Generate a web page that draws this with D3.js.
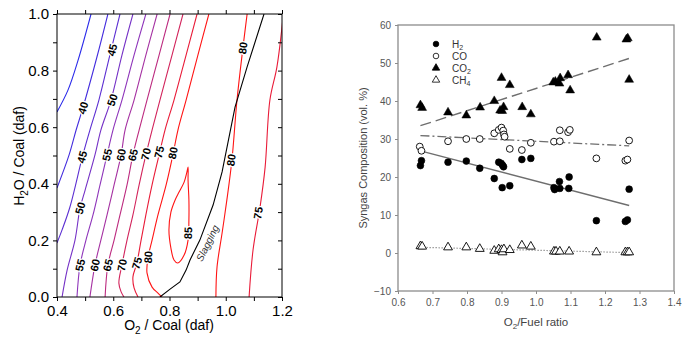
<!DOCTYPE html>
<html><head><meta charset="utf-8">
<script src="https://cdn.jsdelivr.net/npm/d3@7"></script>
<style>body{margin:0;background:#fff}svg{display:block;font-family:Arial,"Liberation Sans",sans-serif}</style>
</head><body><svg id="c" width="690" height="341"></svg>
<script>
// ---------- LEFT: contour chart data (O2/coal, H2O/coal) ----------
const c35 = [[0.521,1.0],[0.475,0.837],[0.439,0.731],[0.400,0.654]];
const c40 = [[0.581,1.0],[0.542,0.848],[0.492,0.668],[0.468,0.590],[0.443,0.502],[0.400,0.385]];
const c45 = [[0.624,1.0],[0.588,0.855],[0.549,0.696],[0.517,0.590],[0.492,0.502],[0.446,0.318],[0.418,0.237],[0.400,0.191]];
const c50 = [[0.670,1.0],[0.631,0.855],[0.592,0.696],[0.556,0.590],[0.535,0.502],[0.500,0.378],[0.482,0.314],[0.464,0.201],[0.436,0.095],[0.418,0]];
const c55 = [[0.716,1.0],[0.674,0.855],[0.631,0.696],[0.599,0.590],[0.578,0.502],[0.553,0.396],[0.528,0.290],[0.503,0.201],[0.482,0.113],[0.471,0]];
const c60 = [[0.756,1.0],[0.716,0.855],[0.674,0.696],[0.642,0.590],[0.628,0.502],[0.603,0.396],[0.578,0.290],[0.556,0.201],[0.535,0.113],[0.517,0]];
const c65 = [[0.802,1.0],[0.763,0.855],[0.720,0.696],[0.692,0.590],[0.670,0.502],[0.649,0.396],[0.624,0.290],[0.603,0.201],[0.581,0.113],[0.571,0]];
const c70 = [[0.848,1.0],[0.809,0.855],[0.766,0.696],[0.738,0.590],[0.716,0.502],[0.692,0.396],[0.670,0.290],[0.649,0.201],[0.631,0.113],[0.620,0.049],[0.628,0.018],[0.638,0]];
const c75 = [[0.898,1.0],[0.859,0.855],[0.816,0.696],[0.784,0.590],[0.763,0.502],[0.738,0.396],[0.716,0.290],[0.699,0.201],[0.684,0.120],[0.670,0.071],[0.674,0.032],[0.688,0]];
const c80a = [[0.940,1.0],[0.901,0.855],[0.859,0.696],[0.830,0.590],[0.812,0.502],[0.788,0.396],[0.759,0.290],[0.738,0.201],[0.724,0.141],[0.720,0.085],[0.738,0.035],[0.759,0.014],[0.773,0]];
const c85 = [[0.866,0.459],[0.866,0.413],[0.869,0.343],[0.869,0.272],[0.866,0.201],[0.852,0.148],[0.830,0.120],[0.816,0.131],[0.805,0.173],[0.798,0.237],[0.805,0.300],[0.820,0.343],[0.834,0.371],[0.852,0.406],[0.862,0.442]];
const c80b = [[1.076,1.0],[1.061,0.880],[1.040,0.696],[1.022,0.484],[1.004,0.343],[0.987,0.226],[0.969,0.106],[0.965,0]];
const c75b = [[1.205,1.0],[1.182,0.813],[1.157,0.696],[1.140,0.459],[1.122,0.318],[1.097,0.166],[1.083,0]];
const slagging = [[0.766,0],[0.802,0.028],[0.837,0.053],[0.859,0.095],[0.873,0.131],[0.908,0.201],[0.955,0.325],[0.987,0.442],[1.033,0.671],[1.076,0.813],[1.136,1.0]];

const contourLevels = [35,40,45,50,55,60,65,70,75,80,85,80,75];
const contourPoints = [c35,c40,c45,c50,c55,c60,c65,c70,c75,c80a,c85,c80b,c75b];
const contourClosed = [false,false,false,false,false,false,false,false,false,false,true,false,false];

const labelLevels = [40,45,50,45,55,60,65,70,75,80,50,55,60,65,70,75,80,85,80,80,75];
const labelX = [0.492,0.596,0.596,0.489,0.578,0.628,0.670,0.716,0.763,0.812,0.482,0.482,0.535,0.581,0.631,0.684,0.724,0.866,1.061,1.019,1.115];
const labelY = [0.668,0.873,0.696,0.495,0.502,0.502,0.502,0.505,0.512,0.509,0.314,0.113,0.113,0.113,0.113,0.120,0.141,0.226,0.880,0.484,0.297];

const leftXTicks = [0.4,0.5,0.6,0.7,0.8,0.9,1.0,1.1,1.2];
const leftYTicks = [0,0.1,0.2,0.3,0.4,0.5,0.6,0.7,0.8,0.9,1.0];

// ---------- RIGHT: syngas composition data ----------
const h2X = [0.665,0.668,0.745,0.798,0.837,0.879,0.892,0.899,0.903,0.906,0.902,0.924,0.959,0.985,1.052,1.054,1.068,1.069,1.096,1.095,1.175,1.259,1.265,1.270];
const h2Y = [23.0,24.3,23.9,24.2,22.3,19.6,23.9,23.6,23.1,22.7,17.2,17.7,24.6,24.9,17.2,16.7,18.8,17.0,20.0,17.0,8.5,8.3,8.7,16.8];
const coX = [0.663,0.668,0.745,0.798,0.837,0.879,0.892,0.900,0.905,0.907,0.909,0.924,0.959,0.985,1.052,1.069,1.069,1.093,1.098,1.175,1.259,1.265,1.270];
const coY = [28.0,26.9,29.4,30.0,30.0,31.5,32.4,33.0,32.2,31.2,30.6,27.4,27.1,29.0,29.3,29.4,32.3,31.8,32.4,24.9,24.3,24.6,29.6];
const co2X = [0.665,0.670,0.745,0.798,0.838,0.879,0.900,0.896,0.902,0.906,0.924,0.960,0.985,1.050,1.056,1.068,1.070,1.093,1.099,1.176,1.262,1.266,1.270];
const co2Y = [38.9,38.2,37.0,36.2,38.3,40.0,46.1,37.5,37.4,38.4,44.2,38.4,36.5,44.9,45.1,44.6,46.0,46.8,42.8,56.7,56.2,56.5,45.6];
const ch4X = [0.665,0.670,0.745,0.798,0.837,0.879,0.892,0.900,0.903,0.907,0.924,0.959,0.985,1.052,1.058,1.069,1.096,1.175,1.259,1.265,1.270];
const ch4Y = [1.8,1.7,1.5,1.5,1.1,0.6,1.0,0.8,0.2,1.0,0.8,2.0,1.7,0.4,0.4,0.4,0.4,0.2,0.2,0.2,0.2];
const fitX = [0.665,1.270];
const h2Fit = [26.9,12.5];
const coFit = [30.9,28.2];
const co2Fit = [33.5,51.2];
const ch4Fit = [1.5,0.1];
const legendMain = ["H","CO","CO","CH"];
const legendSub = ["2","","2","4"];
const rightXTicks = [0.6,0.7,0.8,0.9,1.0,1.1,1.2,1.3,1.4];
const rightYTicks = [-10,0,10,20,30,40,50,60];

// ================= drawing =================
const svg = d3.select("#c");
svg.append("rect").attr("width",690).attr("height",341).attr("fill","#fff");

// ---- left chart ----
const xL = d3.scaleLinear().domain([0.4,1.2]).range([57,282]);
const yL = d3.scaleLinear().domain([0,1]).range([297,14]);
const colorL = d3.scaleLinear().domain([35,57.5,80]).range(["#2a2aea","#9a35b4","#ff1414"]).clamp(true);

svg.append("defs").append("clipPath").attr("id","clipL")
  .append("rect").attr("x",57).attr("y",14).attr("width",225).attr("height",283);

const gL = svg.append("g");
const plotL = gL.append("g").attr("clip-path","url(#clipL)");
const lineOpen = d3.line().x(d=>xL(d[0])).y(d=>yL(d[1])).curve(d3.curveCatmullRom.alpha(0.5));
const lineClosed = d3.line().x(d=>xL(d[0])).y(d=>yL(d[1])).curve(d3.curveCatmullRomClosed.alpha(0.5));

contourPoints.forEach((pts,i)=>{
  plotL.append("path").attr("d",(contourClosed[i]?lineClosed:lineOpen)(pts))
    .attr("fill","none").attr("stroke",colorL(contourLevels[i])).attr("stroke-width",1.1);
});
plotL.append("path").attr("d",d3.line().x(d=>xL(d[0])).y(d=>yL(d[1]))(slagging))
  .attr("fill","none").attr("stroke","#000").attr("stroke-width",1.1);

function angleAt(lines, px, py){
  let best=Infinity, ang=-75;
  lines.forEach(pts=>{
    for(let k=0;k<pts.length-1;k++){
      const x1=xL(pts[k][0]),y1=yL(pts[k][1]),x2=xL(pts[k+1][0]),y2=yL(pts[k+1][1]);
      const mx=(x1+x2)/2,my=(y1+y2)/2;
      const dd=(mx-px)**2+(my-py)**2;
      if(dd<best){best=dd; let a=Math.atan2(y2-y1,x2-x1)*180/Math.PI;
        if(a>=90)a-=180; if(a<-90)a+=180; if(a>0&&a>80)a-=180; ang=a;}
    }
  });
  return ang;
}

labelLevels.forEach((lv,i)=>{
  const px=xL(labelX[i]), py=yL(labelY[i]);
  const lines = contourPoints.filter((p,j)=>contourLevels[j]===lv);
  let a = angleAt(lines,px,py);
  if(a>0) a = a-180;
  plotL.append("text").attr("transform",`translate(${px},${py}) rotate(${a})`)
    .attr("text-anchor","middle").attr("dy","0.36em")
    .attr("font-size",11).attr("font-weight","bold").attr("fill","#000")
    .attr("stroke","#fff").attr("stroke-width",2.5).attr("paint-order","stroke")
    .text(lv);
});
{
  const px=xL(0.935), py=yL(0.19);
  let a = angleAt([slagging],px-6,py);
  if(a>0)a-=180;
  plotL.append("text").attr("transform",`translate(${px},${py}) rotate(${a})`)
    .attr("text-anchor","middle").attr("dy","0.35em").attr("font-size",10)
    .attr("font-style","italic").attr("fill","#333").text("Slagging");
}

// frame + ticks
gL.append("rect").attr("x",57).attr("y",14).attr("width",225).attr("height",283)
  .attr("fill","none").attr("stroke","#000").attr("stroke-width",1);
const fmt1 = d=> (Math.round(d*10)%2===0) ? d3.format(".1f")(d) : "";
const axB = gL.append("g").attr("transform","translate(0,297)")
  .call(d3.axisBottom(xL).tickValues(leftXTicks).tickSize(4).tickSizeOuter(0).tickPadding(4).tickFormat(fmt1));
const axLft = gL.append("g").attr("transform","translate(57,0)")
  .call(d3.axisLeft(yL).tickValues(leftYTicks).tickSize(4).tickSizeOuter(0).tickPadding(4).tickFormat(fmt1));
const axT = gL.append("g").attr("transform","translate(0,14)")
  .call(d3.axisTop(xL).tickValues(leftXTicks).tickSize(4).tickSizeOuter(0).tickFormat(""));
const axR = gL.append("g").attr("transform","translate(282,0)")
  .call(d3.axisLeft(yL).tickValues(leftYTicks).tickSize(4).tickSizeOuter(0).tickFormat(""));
[axB,axLft,axT,axR].forEach(a=>{a.select(".domain").remove();
  a.selectAll("text").attr("font-size",15).attr("fill","#000").attr("font-family","Arial, 'Liberation Sans', sans-serif");
  a.selectAll("line").attr("stroke","#000");});

const tX = gL.append("text").attr("x",169).attr("y",330).attr("text-anchor","middle")
  .attr("font-size",14).attr("fill","#000");
tX.append("tspan").text("O");
tX.append("tspan").attr("font-size",10).attr("dy",4).text("2");
tX.append("tspan").attr("dy",-4).text(" / Coal (daf)");
const tY = gL.append("text").attr("transform","translate(24,156) rotate(-90)").attr("text-anchor","middle")
  .attr("font-size",14).attr("fill","#000");
tY.append("tspan").text("H");
tY.append("tspan").attr("font-size",10).attr("dy",4).text("2");
tY.append("tspan").attr("dy",-4).text("O / Coal (daf)");

// ---- right chart ----
const xR = d3.scaleLinear().domain([0.6,1.4]).range([398,674]);
const yR = d3.scaleLinear().domain([-10,60]).range([291,25]);
const gR = svg.append("g");
const grey = "#6e6e6e";

const fitLine = d3.line().x(d=>xR(d[0])).y(d=>yR(d[1]));
const fits = [[h2Fit,null,grey,1.3],[coFit,"9,3,2,3",grey,1.3],[co2Fit,"11,5",grey,1.4],[ch4Fit,"1.5,1.5","#999",1.2]];
fits.forEach(f=>{
  gR.append("path").attr("d",fitLine(fitX.map((x,i)=>[x,f[0][i]])))
    .attr("fill","none").attr("stroke",f[2]).attr("stroke-width",f[3])
    .attr("stroke-dasharray",f[1]);
});

const tri = d3.symbol().type(d3.symbolTriangle).size(34);
function drawCircles(xs,ys,filled){
  gR.append("g").selectAll("circle").data(xs.map((x,i)=>[x,ys[i]])).join("circle")
    .attr("cx",d=>xR(d[0])).attr("cy",d=>yR(d[1])).attr("r",3.4)
    .attr("fill",filled?"#000":"#fff").attr("stroke","#000").attr("stroke-width",filled?0.6:0.9);
}
function drawTris(xs,ys,filled){
  gR.append("g").selectAll("path").data(xs.map((x,i)=>[x,ys[i]])).join("path")
    .attr("d",tri).attr("transform",d=>`translate(${xR(d[0])},${yR(d[1])})`)
    .attr("fill",filled?"#000":"#fff").attr("stroke","#000").attr("stroke-width",filled?0.5:0.9);
}
drawCircles(coX,coY,false);
drawTris(ch4X,ch4Y,false);
drawTris(co2X,co2Y,true);
drawCircles(h2X,h2Y,true);

// legend
legendMain.forEach((m,i)=>{
  const ly = 44 + i*12;
  if(i===0||i===1){
    gR.append("circle").attr("cx",436).attr("cy",ly).attr("r",2.8)
      .attr("fill",i===0?"#000":"#fff").attr("stroke","#000").attr("stroke-width",0.8);
  } else {
    gR.append("path").attr("d",d3.symbol().type(d3.symbolTriangle).size(24))
      .attr("transform",`translate(436,${ly})`).attr("fill",i===2?"#000":"#fff")
      .attr("stroke","#000").attr("stroke-width",0.8);
  }
  const t = gR.append("text").attr("x",452).attr("y",ly+3.5).attr("font-size",10).attr("fill","#333");
  t.append("tspan").text(m);
  if(legendSub[i]) t.append("tspan").attr("font-size",7).attr("dy",2.5).text(legendSub[i]);
});

gR.append("rect").attr("x",398).attr("y",25).attr("width",276).attr("height",266)
  .attr("fill","none").attr("stroke","#8c8c8c").attr("stroke-width",1.3);
const rB = gR.append("g").attr("transform","translate(0,291)")
  .call(d3.axisBottom(xR).tickValues(rightXTicks).tickSize(3).tickSizeOuter(0).tickPadding(5).tickFormat(d3.format(".1f")));
const rL = gR.append("g").attr("transform","translate(398,0)")
  .call(d3.axisLeft(yR).tickValues(rightYTicks).tickSize(3).tickSizeOuter(0).tickPadding(4).tickFormat(d3.format("d")));
[rB,rL].forEach(a=>{a.select(".domain").remove();
  a.selectAll("text").attr("font-size",10).attr("fill","#555").attr("font-family","Arial, 'Liberation Sans', sans-serif");
  a.selectAll("line").attr("stroke","#8c8c8c");});

const rX = gR.append("text").attr("x",536).attr("y",326).attr("text-anchor","middle")
  .attr("font-size",11.5).attr("fill","#444");
rX.append("tspan").text("O");
rX.append("tspan").attr("font-size",8).attr("dy",3).text("2");
rX.append("tspan").attr("dy",-3).text("/Fuel ratio");
gR.append("text").attr("transform","translate(367,158) rotate(-90)").attr("text-anchor","middle")
  .attr("font-size",11).attr("fill","#444").text("Syngas Composition (vol. %)");
</script></body></html>
